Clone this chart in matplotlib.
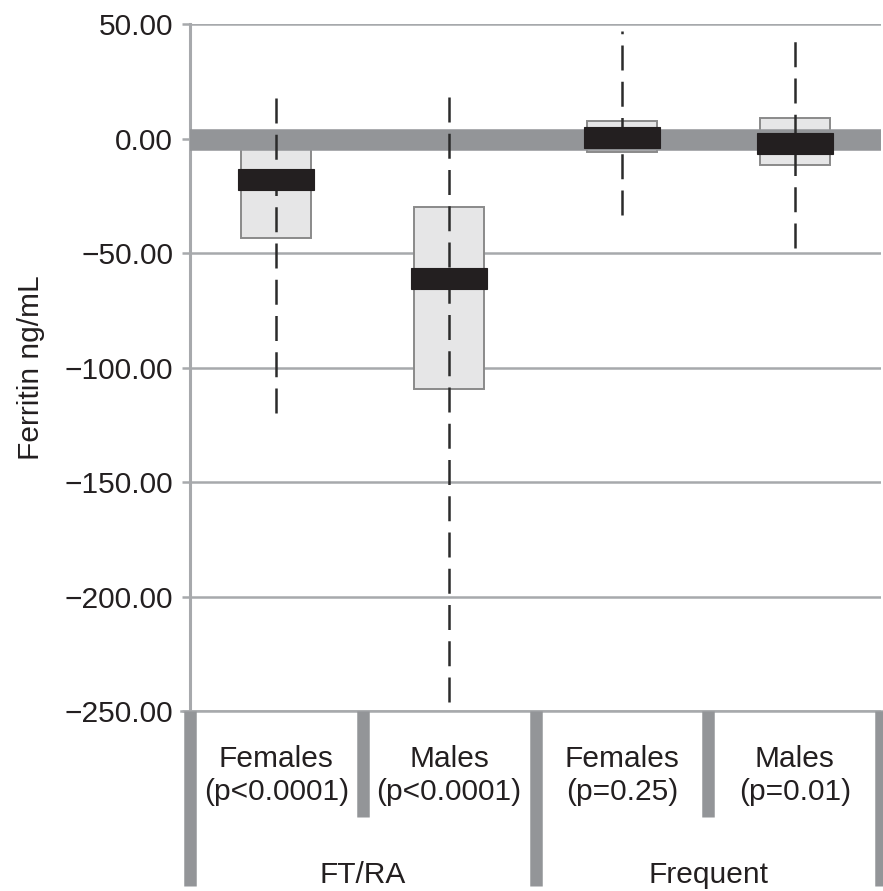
import matplotlib
matplotlib.use("Agg")
import matplotlib.pyplot as plt
from matplotlib import transforms

plt.rcParams['font.family'] = ['Liberation Sans', 'DejaVu Sans']

# data (ng/mL)
subgroups = ["Females\n(p<0.0001)", "Males\n(p<0.0001)", "Females\n(p=0.25)", "Males\n(p=0.01)"]
groups = ["FT/RA", "Frequent"]
medians = [-18, -61, 0.5, -2]
q1 = [-43.5, -109.5, -6, -11.5]
q3 = [-3, -30, 7.8, 9]
whislo = [-120, -246, -33.5, -48]
whishi = [17.5, 20.5, 47, 46]
yticks = [50, 0, -50, -100, -150, -200, -250]

grey = '#939598'
positions = list(range(1, len(subgroups) + 1))

fig = plt.figure(figsize=(8.83, 8.91), dpi=100)
ax = fig.add_axes([0.215, 0.202, 0.783, 0.771])

# grid
for t in yticks:
    ax.axhline(t, color='#a7a9ac', lw=1.8, zorder=1)

stats = [dict(med=m, q1=a, q3=b, whislo=lo, whishi=hi)
         for m, a, b, lo, hi in zip(medians, q1, q3, whislo, whishi)]
ax.bxp(stats, positions=positions, widths=0.405, patch_artist=True,
       showcaps=False, showfliers=False,
       boxprops=dict(facecolor='#e6e6e7', edgecolor='#8a8a8a', lw=1.4),
       whiskerprops=dict(visible=False),
       medianprops=dict(visible=False), zorder=2)

# thick zero reference line
ax.axhline(-0.5, color=grey, lw=15.5, zorder=3, solid_capstyle='butt')

# dashed whiskers through the box
ax.vlines(positions, whislo, whishi, colors='#2b2b2b', lw=1.8,
          linestyles=(0, (10, 4.5)), zorder=4)

# median bars
ax.bar(positions, 9.2, bottom=[m - 4.6 for m in medians], width=0.44,
       color='#231f20', edgecolor='#231f20', lw=0.8, zorder=5)

ax.set_xlim(0.5, 4.5)
ax.set_ylim(-250, 50)
ax.set_yticks(yticks)
ax.set_yticklabels([f"{t:.2f}".replace('-', '\u2212') for t in yticks])
ax.tick_params(axis='y', length=6, width=1.8, color='#a7a9ac', labelsize=21.5,
               pad=6, labelcolor='#231f20')
ax.set_xticks([])
for s in ['top', 'right', 'bottom']:
    ax.spines[s].set_visible(False)
ax.spines['left'].set_color('#a7a9ac')
ax.spines['left'].set_linewidth(2.2)
ax.set_ylabel("Ferritin ng/mL", fontsize=21.5, color='#231f20', labelpad=14)

# category table below the axes
tr = transforms.blended_transform_factory(ax.transData, ax.transAxes)
ax.plot([0.45, 4.55], [0, 0], transform=tr, color='#a7a9ac', lw=1.8,
        clip_on=False, zorder=6)
full = -0.255
short = -0.154
for xsep, ybot in [(0.5, full), (1.5, short), (2.5, full), (3.5, short), (4.5, full)]:
    ax.plot([xsep, xsep], [0, ybot], transform=tr, color=grey, lw=9,
            solid_capstyle='butt', clip_on=False, zorder=6)
for p, lab in zip(positions, subgroups):
    ax.text(p, -0.094, lab, transform=tr, ha='center', va='center',
            fontsize=21.5, color='#231f20', linespacing=1.25)
for i, g in enumerate(groups):
    ax.text(1.5 + 2 * i, -0.239, g, transform=tr, ha='center', va='center',
            fontsize=21.5, color='#231f20')

fig.savefig("out.png", dpi=100)
